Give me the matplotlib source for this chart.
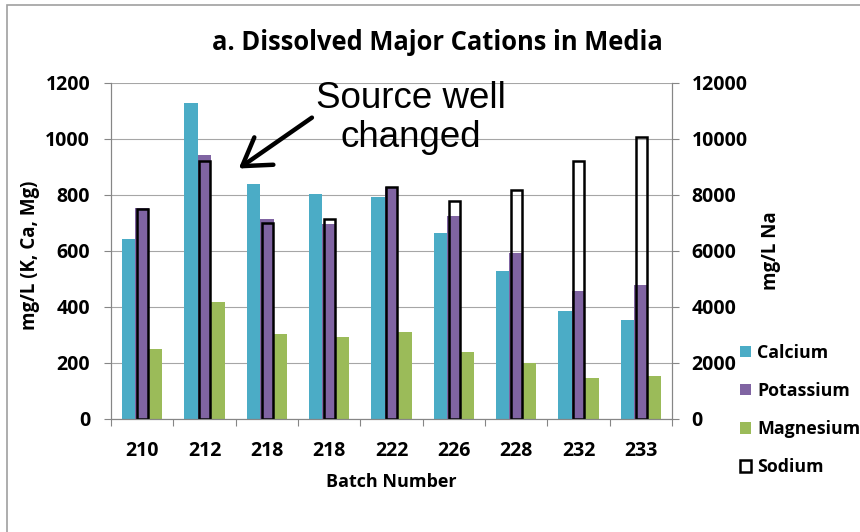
import numpy as np
import matplotlib.pyplot as plt
from matplotlib.patches import Rectangle

# values
batches = ['210', '212', '218', '218', '222', '226', '228', '232', '233']
calcium = [642, 1128, 838, 804, 792, 663, 530, 386, 355]
potassium = [752, 942, 714, 695, 827, 725, 594, 458, 478]
magnesium = [250, 418, 302, 292, 310, 238, 200, 145, 153]
sodium = [7490, 9210, 7010, 7140, 8280, 7790, 8170, 9200, 10070]

c_ca = '#4BACC6'
c_k = '#8064A2'
c_mg = '#9BBB59'
grid_c = '#A6A6A6'
axis_c = '#868686'

plt.rcParams['font.family'] = ['Open Sans', 'DejaVu Sans']
fs_tick = 14
fs_lab = 13.5
fs_leg = 12.8

fig = plt.figure(figsize=(8.6, 5.32), dpi=100)
ax = fig.add_axes([111/860, 1-419/532, (672-111)/860, (419-83)/532])
ax2 = ax.twinx()

x = np.arange(len(batches))
w = 0.215
b_ca = ax.bar(x - w, calcium, w, color=c_ca, zorder=2)
b_k = ax.bar(x, potassium, w, color=c_k, zorder=2)
b_mg = ax.bar(x + w, magnesium, w, color=c_mg, zorder=2)
b_na = ax2.bar(x + 0.005, sodium, 0.175, facecolor='none', edgecolor='black', linewidth=1.8)

ax.set_xlim(-0.5, len(batches) - 0.5)
ax.set_ylim(0, 1200)
ax2.set_ylim(0, 12000)
ax.set_yticks(range(0, 1201, 200))
ax2.set_yticks(range(0, 12001, 2000))
ax.yaxis.grid(True, color=grid_c, linewidth=0.8, zorder=0)
ax.set_axisbelow(True)

ax.set_xticks(x)
ax.set_xticklabels(batches)
ax.set_xticks(np.arange(-0.5, len(batches)), minor=True)
ax.tick_params(axis='x', which='major', length=0, pad=16, labelsize=fs_tick)
ax.tick_params(axis='x', which='minor', length=5, width=0.8, color=axis_c, direction='out')
ax.tick_params(axis='y', length=5, width=0.8, color=axis_c, pad=10, labelsize=fs_tick)
ax2.tick_params(axis='y', length=5, width=0.8, color=axis_c, pad=9, labelsize=fs_tick)
for lab in ax.get_xticklabels() + ax.get_yticklabels() + ax2.get_yticklabels():
    lab.set_fontweight('bold')

for a in (ax, ax2):
    a.spines['top'].set_visible(False)
    for s in ('left', 'right', 'bottom'):
        a.spines[s].set_color(axis_c)
        a.spines[s].set_linewidth(0.8)

ax.annotate('', xy=(1.513, 889), xytext=(2.76, 1082),
            arrowprops=dict(arrowstyle='->,head_length=0.95,head_width=0.6', lw=3.2,
                            color='black', mutation_scale=20), zorder=5)
ax.text(4.31, 1075, 'Source well\nchanged', ha='center', va='center', fontsize=26.5,
        family='Liberation Sans', linespacing=1.12)

fig.text(437/860, 1-50/532, 'a. Dissolved Major Cations in Media', ha='center', va='baseline',
         fontsize=18.4, fontweight='bold')
fig.text(30/860, 1-255/532, 'mg/L (K, Ca, Mg)', rotation=90, ha='center', va='center',
         fontsize=fs_lab, fontweight='bold')
fig.text(771/860, 1-251/532, 'mg/L Na', rotation=90, ha='center', va='center',
         fontsize=fs_lab, fontweight='bold')
fig.text(391/860, 1-482/532, 'Batch Number', ha='center', va='center',
         fontsize=13, fontweight='bold')

fig.legend([b_ca, b_k, b_mg, b_na], ['Calcium', 'Potassium', 'Magnesium', 'Sodium'],
           loc='upper left', bbox_to_anchor=(740/860, 1-344/532), frameon=False,
           handlelength=0.6, handleheight=0.6, handletextpad=0.35, labelspacing=1.13,
           borderpad=0, borderaxespad=0, prop={'size': fs_leg, 'weight': 'bold'})

fig.patches.append(Rectangle((7/860, -0.1), 1.2, 1.1 - 5/532, transform=fig.transFigure,
                             fill=False, edgecolor='#A0A0A0', linewidth=1.2))

fig.savefig('out.png', dpi=100)
